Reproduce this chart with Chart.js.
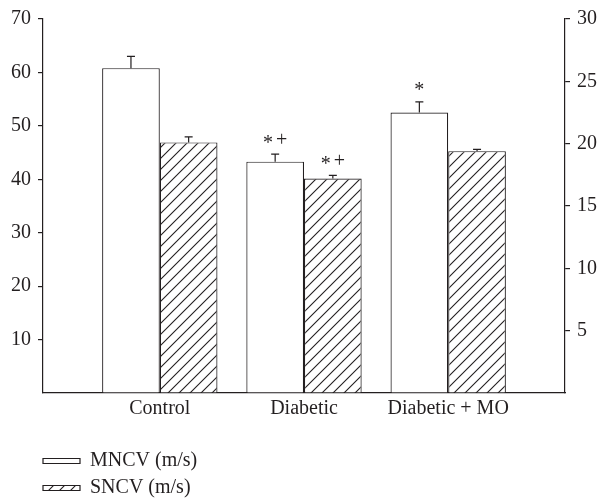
<!DOCTYPE html>
<html>
<head>
<meta charset="utf-8">
<script src="https://cdn.jsdelivr.net/npm/chart.js@4/dist/chart.umd.min.js"></script>
<style>
  html, body { margin: 0; padding: 0; background: #fff; }
</style>
</head>
<body>
<canvas id="ncv" width="598" height="500"></canvas>
<script>
const categories = ['Control', 'Diabetic', 'Diabetic + MO'];
const mncv = [60.8, 43.3, 52.5];
const mncvErr = [2.2, 1.4, 2.0];
const sncv = [20.1, 17.2, 19.4];
const sncvErr = [0.45, 0.25, 0.15];
const mncvMarks = ['', '*+', '*'];
const sncvMarks = ['', '*+', ''];
const leftTicks = { min: 0, max: 70, step: 10 };
const rightTicks = { min: 0, max: 30, step: 5 };

const ink = '#231f20';
const fontSize = 20;

function hatch() {
  const c = document.createElement('canvas');
  c.width = c.height = 11;
  const g = c.getContext('2d');
  g.fillStyle = '#fff';
  g.fillRect(0, 0, 11, 11);
  g.strokeStyle = ink;
  g.lineWidth = 1.1;
  g.beginPath();
  g.moveTo(0, 11); g.lineTo(11, 0);
  g.moveTo(-2, 2); g.lineTo(2, -2);
  g.moveTo(9, 13); g.lineTo(13, 9);
  g.stroke();
  return g.createPattern(c, 'repeat');
}

// error bars and significance marks, placed through the dataset scales
const errorBars = {
  id: 'errorBars',
  afterDatasetsDraw(chart) {
    const { ctx } = chart;
    ctx.save();
    ctx.strokeStyle = ink;
    ctx.fillStyle = ink;
    ctx.lineWidth = 1.2;
    ctx.font = fontSize + 'px "Liberation Serif"';
    ctx.textAlign = 'left';
    ctx.textBaseline = 'alphabetic';
    chart.data.datasets.forEach((ds, i) => {
      const meta = chart.getDatasetMeta(i);
      const yScale = chart.scales[meta.yAxisID];
      meta.data.forEach((bar, j) => {
        const top = yScale.getPixelForValue(ds.values[j] + ds.errors[j]);
        ctx.beginPath();
        ctx.moveTo(bar.x, bar.y);
        ctx.lineTo(bar.x, top);
        ctx.moveTo(bar.x - 4, top);
        ctx.lineTo(bar.x + 4, top);
        ctx.stroke();
        const mark = ds.marks[j];
        if (!mark) return;
        // draw the symbols one by one; the asterisk is nudged down to sit level with the plus
        const chars = mark.split('');
        const gap = 3;
        const widths = chars.map(ch => ctx.measureText(ch).width);
        const total = widths.reduce((a, b) => a + b, 0) + gap * (chars.length - 1);
        let x = bar.x - total / 2;
        chars.forEach((ch, k) => {
          ctx.fillText(ch, x, top - 8 + (ch === '*' ? 2.5 : 0));
          x += widths[k] + gap;
        });
      });
    });
    ctx.restore();
  }
};

// move the legend block so its boxes line up with the left axis
const legendShift = {
  id: 'legendShift',
  afterLayout(chart) {
    const lg = chart.legend;
    if (!lg) return;
    lg.left += 36;
    lg.right += 36;
  }
};

Chart.defaults.font.family = '"Liberation Serif", serif';
Chart.defaults.font.size = fontSize;
Chart.defaults.color = ink;

const tickGrid = {
  display: true,
  drawOnChartArea: false,
  drawTicks: true,
  tickLength: 5,
  lineWidth: 1.2,
  color: c => (c.tick && c.tick.value === 0 ? 'rgba(0,0,0,0)' : ink)
};

new Chart(document.getElementById('ncv'), {
  type: 'bar',
  data: {
    datasets: [
      {
        label: 'MNCV (m/s)',
        data: mncv.map((v, i) => ({ x: i, y: v })),
        values: mncv,
        errors: mncvErr,
        marks: mncvMarks,
        yAxisID: 'y',
        backgroundColor: '#fff',
        borderColor: ink,
        borderWidth: 1.2
      },
      {
        label: 'SNCV (m/s)',
        data: sncv.map((v, i) => ({ x: i, y: v })),
        values: sncv,
        errors: sncvErr,
        marks: sncvMarks,
        yAxisID: 'y1',
        backgroundColor: hatch(),
        borderColor: ink,
        borderWidth: 1.2
      }
    ]
  },
  options: {
    responsive: false,
    animation: false,
    layout: { padding: { left: 0, right: 0, top: 19, bottom: 0 } },
    datasets: { bar: { barPercentage: 1, categoryPercentage: 0.8 } },
    scales: {
      x: {
        type: 'linear',
        offset: false,
        min: -0.81,
        max: 2.81,
        afterBuildTicks: s => { s.ticks = categories.map((c, i) => ({ value: i })); },
        afterFit: s => { s.height = 51; },
        ticks: { callback: v => categories[v] ?? '', padding: 4, maxRotation: 0, autoSkip: false },
        grid: { display: false, drawTicks: false, tickLength: 0 },
        border: { display: true, color: ink, width: 1.2 }
      },
      y: {
        position: 'left',
        min: leftTicks.min,
        max: leftTicks.max,
        afterFit: s => { s.width = 43; },
        ticks: { stepSize: leftTicks.step, padding: 7, callback: v => (v === 0 ? '' : v) },
        grid: tickGrid,
        border: { display: true, color: ink, width: 1.2 }
      },
      y1: {
        position: 'right',
        min: rightTicks.min,
        max: rightTicks.max,
        afterFit: s => { s.width = 33; },
        ticks: { stepSize: rightTicks.step, padding: 7, callback: v => (v === 0 ? '' : v) },
        grid: tickGrid,
        border: { display: true, color: ink, width: 1.2 }
      }
    },
    plugins: {
      tooltip: { enabled: false },
      legend: {
        position: 'bottom',
        align: 'start',
        maxHeight: 56,
        labels: {
          boxWidth: 37,
          boxHeight: 5,
          padding: 7,
          font: { size: fontSize },
          generateLabels: chart =>
            Chart.defaults.plugins.legend.labels.generateLabels(chart)
              .map(l => ({ ...l, text: l.text + ' '.repeat(80) }))
        }
      }
    }
  },
  plugins: [errorBars, legendShift]
});
</script>
</body>
</html>
